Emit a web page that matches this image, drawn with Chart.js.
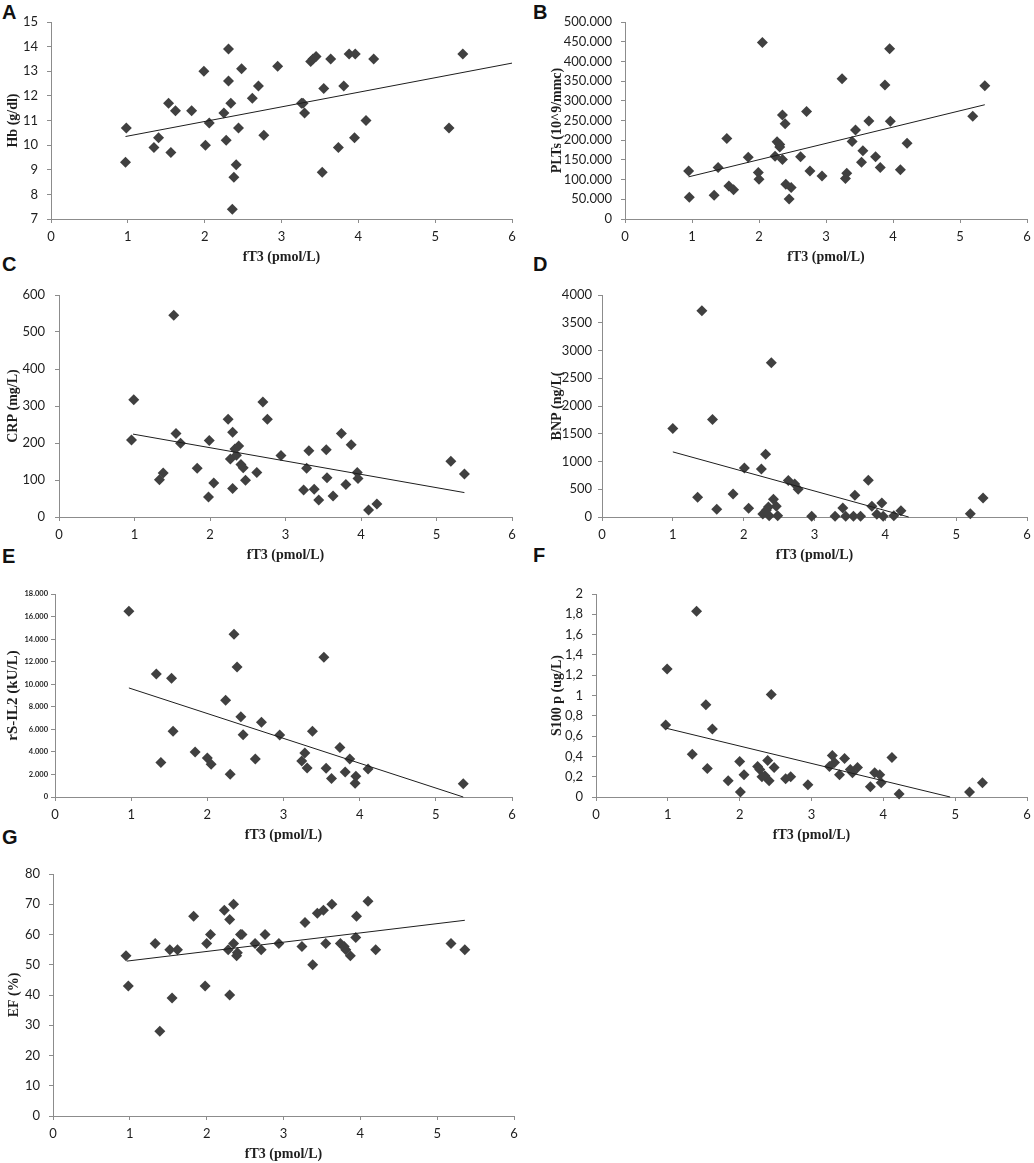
<!DOCTYPE html>
<html>
<head>
<meta charset="utf-8">
<script src="https://cdn.jsdelivr.net/npm/chart.js@4.4.1/dist/chart.umd.min.js"></script>
<style>
  body { margin: 0; background: #fff; width: 1034px; height: 1163px; position: relative; overflow: hidden; }
  canvas { position: absolute; }
  .lbl { position: absolute; font: bold 20px "Liberation Sans", Arial, sans-serif; line-height: 1; color: #111; }
</style>
</head>
<body>
<div class="lbl" style="left:2px;top:2px">A</div>
<div class="lbl" style="left:533px;top:2px">B</div>
<div class="lbl" style="left:2px;top:254px">C</div>
<div class="lbl" style="left:533px;top:254px">D</div>
<div class="lbl" style="left:2px;top:546px">E</div>
<div class="lbl" style="left:533px;top:545px">F</div>
<div class="lbl" style="left:2px;top:827px">G</div>
<script>
// fT3 on x for every panel
const xTicks = [0, 1, 2, 3, 4, 5, 6];
const xTitle = 'fT3 (pmol/L)';

// A - Hb
const fT3A = [0.97,0.98,1.34,1.40,1.53,1.56,1.62,1.83,1.99,2.01,2.06,2.25,2.28,2.31,2.31,2.34,2.36,2.38,2.41,2.44,2.48,2.62,2.70,2.77,2.95,3.26,3.28,3.30,3.38,3.41,3.45,3.53,3.55,3.64,3.74,3.81,3.88,3.95,3.96,4.10,4.20,5.18,5.36];
const hb = [9.3,10.7,9.9,10.3,11.7,9.7,11.4,11.4,13.0,10.0,10.9,11.3,10.2,13.9,12.6,11.7,7.4,8.7,9.2,10.7,13.1,11.9,12.4,10.4,13.2,11.7,11.7,11.3,13.4,13.5,13.6,8.9,12.3,13.5,9.9,12.4,13.7,10.3,13.7,11.0,13.5,10.7,13.7];
const trendAx = [0.97, 6];
const trendAy = [10.35, 13.33];

// B - PLTs
const fT3B = [0.95,0.96,1.33,1.39,1.52,1.55,1.62,1.84,1.99,2.00,2.05,2.24,2.27,2.31,2.31,2.35,2.35,2.39,2.40,2.45,2.48,2.62,2.71,2.76,2.94,3.24,3.29,3.31,3.39,3.44,3.53,3.55,3.64,3.74,3.81,3.88,3.95,3.96,4.11,4.21,5.19,5.37];
const plts = [122000,55000,60000,131000,204000,84000,74000,157000,118000,101000,448000,159000,196000,189000,183000,264000,151000,242000,88000,51000,80000,158000,273000,122000,109000,356000,103000,116000,197000,226000,144000,173000,249000,158000,131000,340000,432000,248000,125000,192000,261000,338000];
const trendBx = [0.95, 5.37];
const trendBy = [107000, 290000];

// C - CRP
const fT3C = [0.96,0.99,1.33,1.38,1.52,1.55,1.61,1.83,1.98,1.99,2.05,2.24,2.27,2.30,2.30,2.33,2.35,2.38,2.41,2.44,2.47,2.62,2.70,2.76,2.94,3.24,3.28,3.31,3.38,3.44,3.54,3.55,3.63,3.74,3.80,3.87,3.95,3.96,4.10,4.21,5.19,5.37];
const crp = [208,317,101,119,545,226,199,132,54,207,92,264,157,229,77,184,167,192,142,133,99,120,311,264,166,73,132,179,75,46,182,106,57,226,88,195,120,104,19,35,151,116];
const trendCx = [0.98, 5.37];
const trendCy = [224, 66];

// D - BNP
const fT3D = [1.00,1.35,1.41,1.56,1.62,1.85,2.01,2.07,2.25,2.27,2.31,2.32,2.35,2.36,2.39,2.42,2.46,2.48,2.63,2.72,2.77,2.96,3.29,3.40,3.44,3.55,3.57,3.65,3.76,3.81,3.88,3.95,3.97,4.12,4.22,5.20,5.38];
const bnp = [1594,355,3717,1756,138,415,884,156,866,54,1131,120,180,24,2779,319,192,24,656,595,499,12,12,162,12,12,391,12,662,192,48,253,12,24,114,60,343];
const trendDx = [1.00, 4.33];
const trendDy = [1173, 0];

// E - rS-IL2
const fT3E = [0.97,1.33,1.39,1.53,1.55,1.84,2.00,2.05,2.24,2.30,2.35,2.39,2.44,2.47,2.63,2.71,2.95,3.24,3.28,3.31,3.38,3.53,3.56,3.63,3.74,3.81,3.87,3.94,3.95,4.11,5.36];
const rsil2 = [16460,10910,3070,10520,5820,3990,3460,2900,8570,2010,14420,11530,7120,5530,3370,6620,5500,3190,3900,2570,5820,12390,2540,1630,4400,2220,3370,1210,1830,2480,1180];
const trendEx = [0.97, 5.36];
const trendEy = [9670, 0];

// F - S100 p
const fT3F = [0.97,0.99,1.34,1.40,1.53,1.55,1.62,1.84,2.00,2.01,2.06,2.25,2.28,2.31,2.35,2.39,2.41,2.44,2.48,2.64,2.71,2.95,3.25,3.29,3.32,3.39,3.46,3.54,3.57,3.64,3.82,3.88,3.95,3.97,4.12,4.22,5.20,5.38];
const s100 = [0.71,1.26,0.42,1.83,0.91,0.28,0.67,0.16,0.35,0.05,0.22,0.30,0.27,0.20,0.21,0.36,0.16,1.01,0.29,0.18,0.20,0.12,0.30,0.41,0.34,0.22,0.38,0.27,0.24,0.29,0.10,0.24,0.22,0.14,0.39,0.03,0.05,0.14];
const trendFx = [0.98, 4.93];
const trendFy = [0.677, 0];

// G - EF
const fT3G = [0.95,0.98,1.33,1.39,1.52,1.55,1.62,1.83,1.98,2.00,2.05,2.23,2.28,2.30,2.30,2.35,2.35,2.39,2.40,2.44,2.46,2.63,2.71,2.76,2.94,3.24,3.28,3.38,3.44,3.52,3.55,3.63,3.74,3.79,3.81,3.87,3.94,3.95,4.10,4.20,5.18,5.36];
const ef = [53,43,57,28,55,39,55,66,43,57,60,68,55,65,40,70,57,53,54,60,60,57,55,60,57,56,64,50,67,68,57,70,57,56,55,53,59,66,71,55,57,55];
const trendGx = [0.96, 5.36];
const trendGy = [51.2, 64.7];

const AXIS = '#8c8c8c';
const INK = '#1e1e1e';
const MARK = '#404040';
const TICKFONT = '"Lato", "Open Sans", sans-serif';
const TITLEFONT = '"Liberation Serif", "Times New Roman", serif';

function pts(xs, ys) {
    return xs.map(function (x, i) { return {x: x, y: ys[i]}; });
}
function dots(v) {
    return String(Math.round(v)).replace(/\B(?=(\d{3})+(?!\d))/g, '.');
}
function comma(v) {
    return String(Math.round(v * 10) / 10).replace('.', ',');
}

function makePanel(p) {
    const canvas = document.createElement('canvas');
    const w = p.cw, h = p.area.b - p.cy + 47;
    canvas.width = w;
    canvas.height = h;
    canvas.style.left = p.cx + 'px';
    canvas.style.top = p.cy + 'px';
    document.body.appendChild(canvas);

    const yW = p.area.l - p.cx;
    const yTitleSize = p.yTitleSize || 14;

    new Chart(canvas.getContext('2d'), {
        type: 'scatter',
        data: {
            datasets: [{
                data: pts(p.tx, p.ty),
                showLine: true,
                borderColor: INK,
                borderWidth: 1,
                pointRadius: 0,
                clip: false
            }, {
                data: pts(p.xs, p.ys),
                pointStyle: 'rectRot',
                pointRadius: 5.5,
                backgroundColor: MARK,
                borderColor: MARK,
                borderWidth: 0,
                clip: false
            }]
        },
        options: {
            responsive: false,
            animation: false,
            events: [],
            layout: {padding: {left: 0, top: p.area.t - p.cy, right: p.cx + w - p.area.r, bottom: 0}},
            plugins: {legend: {display: false}, tooltip: {enabled: false}},
            scales: {
                x: {
                    type: 'linear', min: 0, max: 6,
                    afterBuildTicks: function (s) { s.ticks = xTicks.map(function (v) { return {value: v}; }); },
                    afterFit: function (s) { s.height = 47; s.paddingLeft = 0; s.paddingRight = 0; },
                    border: {display: true, color: AXIS, width: 1},
                    grid: {display: true, drawOnChartArea: false, drawTicks: true, tickLength: 4, color: AXIS},
                    ticks: {color: INK, padding: 6, autoSkip: false, maxRotation: 0,
                            font: {family: TICKFONT, size: 13, lineHeight: 1.2}},
                    title: {display: true, text: xTitle, color: INK, padding: {top: 0, bottom: 0},
                            font: {family: TITLEFONT, size: 14, weight: 'bold', lineHeight: 1.2}}
                },
                y: {
                    type: 'linear', min: p.yMin, max: p.yMax,
                    afterFit: function (s) { s.width = yW; s.paddingTop = 0; s.paddingBottom = 0; },
                    border: {display: true, color: AXIS, width: 1},
                    grid: {display: true, drawOnChartArea: false, drawTicks: true, tickLength: 4, color: AXIS},
                    ticks: {stepSize: p.yStep, color: INK, padding: p.yPad, autoSkip: false,
                            callback: p.fmt || function (v) { return String(v); },
                            font: p.yTickFont || {family: TICKFONT, size: 13, lineHeight: 1.2}},
                    title: {display: true, text: p.yTitle, color: INK,
                            padding: {top: p.yTitleX - yTitleSize * 0.6, bottom: 0},
                            font: {family: TITLEFONT, size: yTitleSize, weight: 'bold', lineHeight: 1.2}}
                }
            }
        }
    });
}

makePanel({cx: 0, cy: 0, cw: 520, area: {l: 51, t: 22, r: 512, b: 219},
    xs: fT3A, ys: hb, tx: trendAx, ty: trendAy,
    yMin: 7, yMax: 15, yStep: 1, yPad: 9, yTitle: 'Hb (g/dl)', yTitleX: 13});

makePanel({cx: 520, cy: 0, cw: 514, area: {l: 625, t: 22, r: 1027, b: 219},
    xs: fT3B, ys: plts, tx: trendBx, ty: trendBy,
    yMin: 0, yMax: 500000, yStep: 50000, yPad: 9, fmt: dots,
    yTitle: 'PLTs (10^9/mmc)', yTitleX: 37});

makePanel({cx: 0, cy: 270, cw: 520, area: {l: 59, t: 295, r: 512, b: 517},
    xs: fT3C, ys: crp, tx: trendCx, ty: trendCy,
    yMin: 0, yMax: 600, yStep: 100, yPad: 10, yTitle: 'CRP (mg/L)', yTitleX: 13});

makePanel({cx: 520, cy: 270, cw: 514, area: {l: 602, t: 295, r: 1027, b: 517},
    xs: fT3D, ys: bnp, tx: trendDx, ty: trendDy,
    yMin: 0, yMax: 4000, yStep: 500, yPad: 6, yTitle: 'BNP (ng/L(', yTitleX: 37});

makePanel({cx: 0, cy: 565, cw: 520, area: {l: 55, t: 594, r: 512, b: 797},
    xs: fT3E, ys: rsil2, tx: trendEx, ty: trendEy,
    yMin: 0, yMax: 18000, yStep: 2000, yPad: 3, fmt: dots,
    yTickFont: {family: TICKFONT, size: 7.5, weight: 'bold', lineHeight: 1.2},
    yTitle: 'rS-IL2 (kU/L)', yTitleX: 13, yTitleSize: 15});

makePanel({cx: 520, cy: 565, cw: 514, area: {l: 596, t: 594, r: 1027, b: 797},
    xs: fT3F, ys: s100, tx: trendFx, ty: trendFy,
    yMin: 0, yMax: 2, yStep: 0.2, yPad: 9, fmt: comma,
    yTitle: 'S100 p (ug/L)', yTitleX: 37});

makePanel({cx: 0, cy: 850, cw: 520, area: {l: 53, t: 874, r: 514, b: 1116},
    xs: fT3G, ys: ef, tx: trendGx, ty: trendGy,
    yMin: 0, yMax: 80, yStep: 10, yPad: 9, yTitle: 'EF (%)', yTitleX: 14});
</script>
</body>
</html>
